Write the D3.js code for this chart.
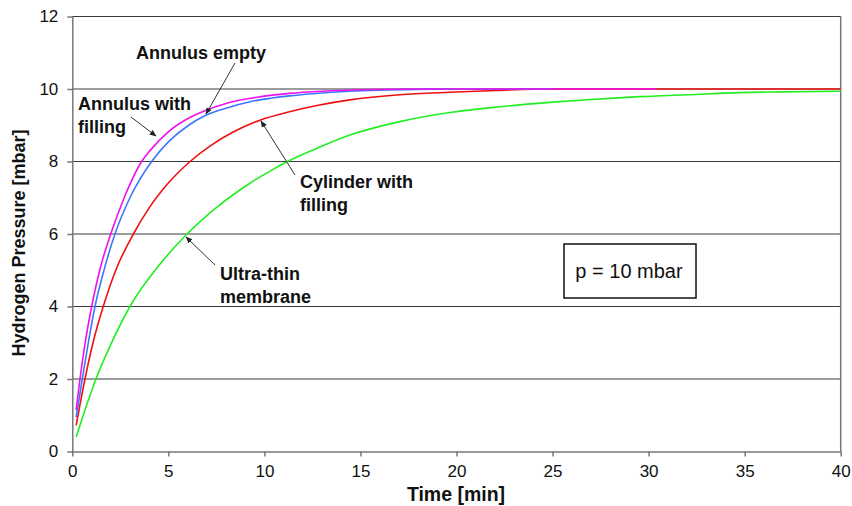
<!DOCTYPE html>
<html>
<head>
<meta charset="utf-8">
<script src="https://cdn.jsdelivr.net/npm/d3@7"></script>
<style>
  body { margin: 0; background: #fff; }
  text { font-family: "Liberation Sans", Arial, sans-serif; }
</style>
</head>
<body>
<svg id="chart" width="852" height="506"></svg>
<script>
// data: [time in min, pressure in mbar]
var annulusEmpty = [[0.2,1.15],[0.4,2],[0.7,3.1],[1.01,4],[1.45,5.05],[2.0,6],[2.7,7.0],[3.61,8],[4.04,8.3],[5,8.82],[6,9.18],[6.9,9.4],[8,9.6],[9.25,9.74],[10.4,9.83],[11.3,9.88],[13,9.94],[15,9.98],[18,10],[22,10],[26,10],[30.4,10]];
var annulusFilling = [[0.2,0.95],[0.52,2],[0.85,3.05],[1.18,4],[1.65,5.0],[2.22,6],[3.0,7.0],[4.13,8],[5,8.54],[6,8.98],[6.9,9.26],[8,9.47],[9.25,9.65],[10.4,9.75],[11.3,9.81],[12.5,9.87],[14.45,9.94],[16,9.97],[18,9.99],[20,10],[25,10]];
var cylinderFilling = [[0.2,0.72],[0.66,2],[1.1,3.05],[1.61,4],[2.3,5.05],[3.18,6],[4.0,6.72],[4.91,7.35],[6.13,8.0],[7.2,8.44],[8.4,8.82],[9.77,9.14],[11.3,9.37],[12.8,9.55],[14.45,9.7],[17.05,9.84],[19.65,9.91],[22,9.96],[25,10],[30,10],[35,10],[40,10]];
var ultraThin = [[0.2,0.4],[0.6,1.05],[1.23,2],[2.0,2.95],[3.0,4],[4.57,5.17],[5.97,6],[7.5,6.73],[9.25,7.4],[10.4,7.77],[11.2,8],[12.8,8.38],[14.45,8.73],[17.05,9.1],[19.65,9.35],[22.25,9.51],[24.85,9.63],[27,9.71],[29.55,9.79],[32,9.84],[34.75,9.9],[37,9.92],[40,9.94]];

var xTicks = [0, 5, 10, 15, 20, 25, 30, 35, 40];
var yTicks = [0, 2, 4, 6, 8, 10, 12];

(function () {
    var svg = d3.select("#chart");
    var left = 72.3, right = 840.7, top = 16.5, bottom = 451.5;

    var x = d3.scaleLinear().domain([0, 40]).range([left, right]);
    var y = d3.scaleLinear().domain([0, 12]).range([bottom, top]);

    // horizontal grid lines
    svg.append("g")
        .selectAll("line")
        .data(yTicks.filter(d => d > 0))
        .join("line")
        .attr("x1", left).attr("x2", right)
        .attr("y1", d => y(d)).attr("y2", d => y(d))
        .attr("stroke", "#3a3a3a")
        .attr("stroke-width", 1.2);

    // right border
    svg.append("line")
        .attr("x1", right).attr("x2", right)
        .attr("y1", top).attr("y2", bottom)
        .attr("stroke", "#777").attr("stroke-width", 1.5);

    var yAxis = svg.append("g")
        .attr("transform", "translate(" + left + ",0)")
        .call(d3.axisLeft(y).tickValues(yTicks).tickSize(5).tickSizeOuter(0).tickPadding(9));
    var xAxis = svg.append("g")
        .attr("transform", "translate(0," + bottom + ")")
        .call(d3.axisBottom(x).tickValues(xTicks).tickSize(5).tickSizeOuter(0).tickPadding(8));

    [xAxis, yAxis].forEach(function (a) {
        a.select(".domain").attr("stroke", "#777").attr("stroke-width", 1.5);
        a.selectAll(".tick line").attr("stroke", "#777").attr("stroke-width", 1.5);
        a.selectAll("text").attr("font-size", 17).attr("fill", "#111")
            .style("font-family", "'Liberation Sans', Arial, sans-serif");
    });

    var line = d3.line().x(d => x(d[0])).y(d => y(d[1])).curve(d3.curveMonotoneX);

    var series = [
        { data: ultraThin, color: "#22ee22" },
        { data: cylinderFilling, color: "#ee1111" },
        { data: annulusFilling, color: "#3c78ff" },
        { data: annulusEmpty, color: "#ee11ee" }
    ];

    svg.append("g")
        .selectAll("path")
        .data(series)
        .join("path")
        .attr("d", d => line(d.data))
        .attr("fill", "none")
        .attr("stroke", d => d.color)
        .attr("stroke-width", 1.6);

    // annotation arrows
    var defs = svg.append("defs");
    defs.append("marker")
        .attr("id", "arrow")
        .attr("viewBox", "0 0 10 10")
        .attr("refX", 9).attr("refY", 5)
        .attr("markerWidth", 7).attr("markerHeight", 7)
        .attr("orient", "auto")
        .append("path")
        .attr("d", "M0,1 L10,5 L0,9 z")
        .attr("fill", "#222");

    var arrows = [
        [235, 63, 206, 114],
        [131, 117, 156, 136],
        [295, 175, 261, 121],
        [215, 265, 186, 237]
    ];
    svg.append("g")
        .selectAll("line")
        .data(arrows)
        .join("line")
        .attr("x1", d => d[0]).attr("y1", d => d[1])
        .attr("x2", d => d[2]).attr("y2", d => d[3])
        .attr("stroke", "#333").attr("stroke-width", 1)
        .attr("marker-end", "url(#arrow)");

    var labels = [
        { x: 136, y: 59, lines: ["Annulus empty"] },
        { x: 78, y: 110, lines: ["Annulus with", "filling"] },
        { x: 300, y: 188, lines: ["Cylinder with", "filling"] },
        { x: 220, y: 280, lines: ["Ultra-thin", "membrane"] }
    ];
    labels.forEach(function (l) {
        var t = svg.append("text")
            .attr("x", l.x).attr("y", l.y)
            .attr("font-size", 18).attr("font-weight", "bold").attr("fill", "#111");
        l.lines.forEach(function (s, i) {
            t.append("tspan").attr("x", l.x).attr("dy", i === 0 ? 0 : 23).text(s);
        });
    });

    // info box
    svg.append("rect")
        .attr("x", 564).attr("y", 244).attr("width", 132).attr("height", 54)
        .attr("fill", "#fff").attr("stroke", "#111").attr("stroke-width", 1.5);
    svg.append("text")
        .attr("x", 629).attr("y", 278)
        .attr("text-anchor", "middle")
        .attr("font-size", 20).attr("fill", "#111")
        .text("p = 10 mbar");

    // axis titles
    svg.append("text")
        .attr("x", 456).attr("y", 501)
        .attr("text-anchor", "middle")
        .attr("font-size", 19.5).attr("font-weight", "bold").attr("fill", "#111")
        .text("Time [min]");
    svg.append("text")
        .attr("transform", "translate(25,243) rotate(-90)")
        .attr("text-anchor", "middle")
        .attr("font-size", 18).attr("font-weight", "bold").attr("fill", "#111")
        .text("Hydrogen Pressure [mbar]");
})();
</script>
</body>
</html>
